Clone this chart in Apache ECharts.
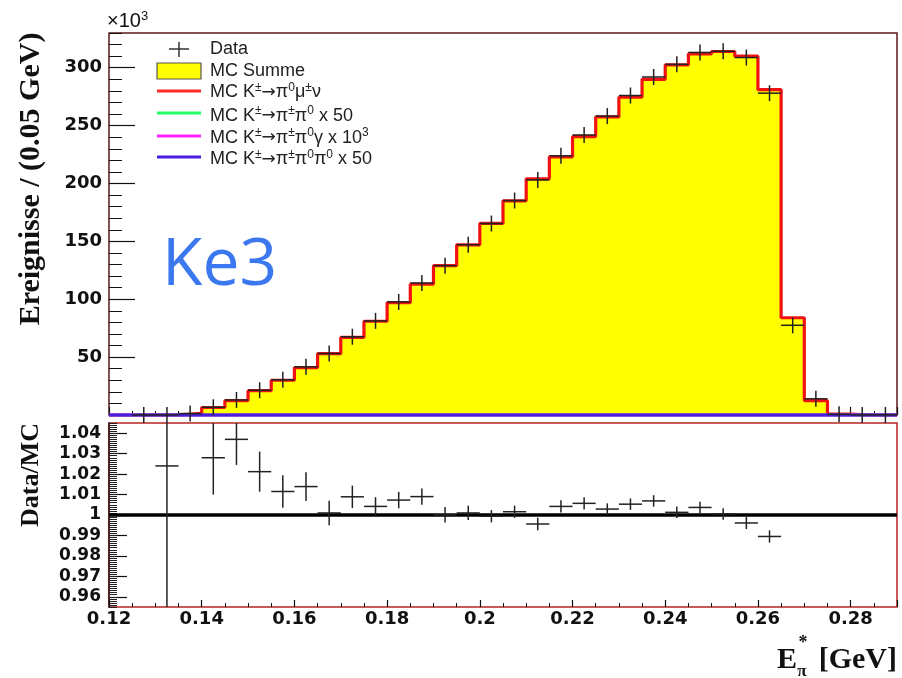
<!DOCTYPE html>
<html>
<head>
<meta charset="utf-8">
<script src="https://cdn.jsdelivr.net/npm/echarts@6/dist/echarts.min.js"></script>
<style>
  html, body { margin: 0; padding: 0; background: #ffffff; }
  #chart { width: 902px; height: 678px; }
</style>
</head>
<body>
<div id="chart"></div>
<script>
// ---- histogram binning (GeV) ----
const binLow = [0.120, 0.125, 0.130, 0.135, 0.140, 0.145, 0.150, 0.155, 0.160, 0.165,
                0.170, 0.175, 0.180, 0.185, 0.190, 0.195, 0.200, 0.205, 0.210, 0.215,
                0.220, 0.225, 0.230, 0.235, 0.240, 0.245, 0.250, 0.255, 0.260, 0.265,
                0.270, 0.275, 0.280, 0.285];
const binUpper = 0.29;

// ---- events per bin, in units of 10^3 ----
const mcSum = [0, 0, 0.05, 1.5, 6.5, 12.5, 21, 30, 41, 53,
               67, 81, 97, 113, 129, 147, 165.5, 185, 204, 223,
               240.5, 257.5, 274.5, 290, 302.5, 312, 314, 310, 281, 84,
               12.5, 0.8, 0, 0];
const dataCounts = [null, 0.02, 0.05, 1.2, 6.7, 13.0, 21.4, 30.4, 41.6, 53.1,
                    67.6, 81.3, 97.7, 114.0, 129.0, 147.1, 165.4, 185.3, 203.1, 223.9,
                    241.9, 258.2, 276.0, 292.0, 302.9, 313.2, 314.2, 308.8, 278.0, 77.5,
                    14.0, 0.6, 0.1, 0.1];
// background channels (scaled) stay at the baseline on this scale
const mcK2pi  = [0, 0, 0, 0, 0, 0, 0, 0, 0, 0, 0, 0, 0, 0, 0, 0, 0,
                 0, 0, 0, 0, 0, 0, 0, 0, 0, 0, 0, 0, 0, 0, 0, 0, 0];
const mcK2piG = [0, 0, 0, 0, 0, 0, 0, 0, 0, 0, 0, 0, 0, 0, 0, 0, 0,
                 0, 0, 0, 0, 0, 0, 0, 0, 0, 0, 0, 0, 0, 0, 0, 0, 0];
const mcK3pi  = [0, 0, 0, 0, 0, 0, 0, 0, 0, 0, 0, 0, 0, 0, 0, 0, 0,
                 0, 0, 0, 0, 0, 0, 0, 0, 0, 0, 0, 0, 0, 0, 0, 0, 0];

// ---- Data/MC ratio ----
const ratioBinLow = [0.130, 0.140, 0.145, 0.150, 0.155, 0.160, 0.165, 0.170, 0.175, 0.180,
                     0.185, 0.190, 0.195, 0.200, 0.205, 0.210, 0.215, 0.220, 0.225, 0.230,
                     0.235, 0.240, 0.245, 0.250, 0.255, 0.260];
const ratioValues = [1.024, 1.028, 1.037, 1.0212, 1.0115, 1.0139, 1.001, 1.0089, 1.0042, 1.0073,
                     1.009, 1.0001, 1.001, 0.9994, 1.0016, 0.9956, 1.0042, 1.0057, 1.0029, 1.0053,
                     1.0069, 1.0013, 1.0037, 1.0005, 0.9961, 0.9895];
const ratioErrors = [0.2, 0.018, 0.0125, 0.0098, 0.008, 0.007, 0.006, 0.0055, 0.0045, 0.004,
                     0.004, 0.0038, 0.0035, 0.003, 0.003, 0.003, 0.003, 0.003, 0.0028, 0.0028,
                     0.0028, 0.0028, 0.0028, 0.0028, 0.003, 0.003];
const unityRatio = 1;

// ---- tick labels ----
const xTickLabels = [0.12, 0.14, 0.16, 0.18, 0.20, 0.22, 0.24, 0.26, 0.28];
const topYTicks = [0, 50, 100, 150, 200, 250, 300];
const topYLabels = [50, 100, 150, 200, 250, 300];
const ratioTicks = [0.96, 0.97, 0.98, 0.99, 1.00, 1.01, 1.02, 1.03, 1.04];

// ---- helpers ----
const binWidth = binLow[1] - binLow[0];
function stepPoints(values) {
  const pts = binLow.map((x, i) => [x, values[i]]);
  pts.push([binUpper, values[values.length - 1]]);
  return pts;
}
const dataItems = [];
binLow.forEach((lo, i) => {
  if (dataCounts[i] !== null) dataItems.push([lo, lo + binWidth, dataCounts[i]]);
});
const ratioItems = ratioBinLow.map((lo, i) => [lo, lo + binWidth, ratioValues[i], ratioErrors[i]]);
const fmtNum = v => String(+(+v).toFixed(3));

const tickFont = { fontFamily: 'DejaVu Sans', fontWeight: 'bold', color: '#111' };
const crossColor = '#222';

const chart = echarts.init(document.getElementById('chart'), null, { renderer: 'canvas' });

const option = {
  animation: false,
  backgroundColor: '#ffffff',
  grid: [
    { left: 109, top: 33, width: 788, height: 382, show: true,
      borderColor: '#5a1a1a', borderWidth: 1.5, backgroundColor: '#ffffff' },
    { left: 109, top: 423, width: 788, height: 184, show: true,
      borderColor: '#b82424', borderWidth: 1.5, backgroundColor: '#ffffff' }
  ],
  xAxis: [
    { gridIndex: 0, type: 'value', position: 'bottom', min: 0.12, max: binUpper, interval: 0.02,
      axisLine: { show: false, onZero: false }, splitLine: { show: false },
      axisTick: { inside: true, length: 8, lineStyle: { color: '#111', width: 1.2 } },
      axisLabel: { show: false } },
    { gridIndex: 0, type: 'value', position: 'bottom', min: 0.12, max: binUpper, interval: 0.005,
      axisLine: { show: false, onZero: false }, splitLine: { show: false },
      axisTick: { inside: true, length: 4, lineStyle: { color: '#111', width: 1 } },
      axisLabel: { show: false } },
    { gridIndex: 1, type: 'value', position: 'bottom', min: 0.12, max: binUpper, interval: 0.02,
      axisLine: { show: false, onZero: false }, splitLine: { show: false },
      axisTick: { inside: true, length: 7, lineStyle: { color: '#111', width: 1.2 } },
      axisLabel: Object.assign({ customValues: xTickLabels, fontSize: 18, margin: 3,
        formatter: v => (Math.abs(v - binUpper) < 1e-9 ? '' : fmtNum(v)) }, tickFont) },
    { gridIndex: 1, type: 'value', position: 'bottom', min: 0.12, max: binUpper, interval: 0.005,
      axisLine: { show: false, onZero: false }, splitLine: { show: false },
      axisTick: { inside: true, length: 4, lineStyle: { color: '#111', width: 1 } },
      axisLabel: { show: false } }
  ],
  yAxis: [
    { gridIndex: 0, type: 'value', position: 'left', min: 0, max: 330, interval: 50,
      axisLine: { show: false, onZero: false }, splitLine: { show: false },
      axisTick: { inside: true, length: 26, customValues: topYTicks, lineStyle: { color: '#111', width: 1.2 } },
      axisLabel: Object.assign({ customValues: topYLabels, fontSize: 18, margin: 7,
        padding: [7, 0, 0, 0], formatter: v => fmtNum(v) }, tickFont) },
    { gridIndex: 0, type: 'value', position: 'left', min: 0, max: 330, interval: 10,
      axisLine: { show: false, onZero: false }, splitLine: { show: false },
      axisTick: { inside: true, length: 13, lineStyle: { color: '#111', width: 1 } },
      axisLabel: { show: false } },
    { gridIndex: 1, type: 'value', position: 'left', min: 0.955, max: 1.045, interval: 0.005,
      axisLine: { show: true, onZero: false, lineStyle: { color: '#3a1010', width: 1.5 } },
      splitLine: { show: false },
      axisTick: { inside: true, length: 18, customValues: ratioTicks, lineStyle: { color: '#111', width: 1.2 } },
      axisLabel: Object.assign({ customValues: ratioTicks, fontSize: 17, margin: 8,
        padding: [5, 0, 0, 0], formatter: v => fmtNum(v) }, tickFont) },
    { gridIndex: 1, type: 'value', position: 'left', min: 0.955, max: 1.045, interval: 0.001,
      axisLine: { show: false, onZero: false }, splitLine: { show: false },
      axisTick: { inside: true, length: 8, lineStyle: { color: '#222', width: 1 } },
      axisLabel: { show: false } }
  ],
  series: [
    { name: 'MC Summe', type: 'line', xAxisIndex: 0, yAxisIndex: 0, step: 'end',
      data: stepPoints(mcSum), symbol: 'none', clip: false, z: 2,
      lineStyle: { color: '#f01212', width: 3.2 },
      areaStyle: { color: '#ffff00', opacity: 1 } },
    { name: 'K2pi', type: 'line', xAxisIndex: 0, yAxisIndex: 0, step: 'end',
      data: stepPoints(mcK2pi), symbol: 'none', clip: false, z: 3,
      lineStyle: { color: '#22ee55', width: 3 } },
    { name: 'K2piG', type: 'line', xAxisIndex: 0, yAxisIndex: 0, step: 'end',
      data: stepPoints(mcK2piG), symbol: 'none', clip: false, z: 3,
      lineStyle: { color: '#ff22ff', width: 3 } },
    { name: 'K3pi', type: 'line', xAxisIndex: 0, yAxisIndex: 0, step: 'end',
      data: stepPoints(mcK3pi), symbol: 'none', clip: false, z: 4,
      lineStyle: { color: '#4a1ee0', width: 3 } },
    { name: 'Data', type: 'custom', xAxisIndex: 0, yAxisIndex: 0, z: 6, clip: false,
      data: dataItems, encode: { x: [0, 1], y: 2 },
      renderItem: (params, api) => {
        const lo = api.value(0), hi = api.value(1), v = api.value(2);
        const a = api.coord([lo, v]), b = api.coord([hi, v]);
        const cx = (a[0] + b[0]) / 2;
        return { type: 'group', children: [
          { type: 'line', shape: { x1: a[0], y1: a[1], x2: b[0], y2: b[1] },
            style: { stroke: crossColor, lineWidth: 1.5 } },
          { type: 'line', shape: { x1: cx, y1: a[1] - 8, x2: cx, y2: a[1] + 8 },
            style: { stroke: crossColor, lineWidth: 1.5 } }
        ] };
      } },
    { name: 'Ratio', type: 'custom', xAxisIndex: 2, yAxisIndex: 2, z: 6, clip: true,
      data: ratioItems, encode: { x: [0, 1], y: 2 },
      renderItem: (params, api) => {
        const lo = api.value(0), hi = api.value(1), r = api.value(2), e = api.value(3);
        const mid = (lo + hi) / 2;
        const a = api.coord([lo, r]), b = api.coord([hi, r]);
        const t = api.coord([mid, r + e]), d = api.coord([mid, r - e]);
        return { type: 'group', children: [
          { type: 'line', shape: { x1: a[0], y1: a[1], x2: b[0], y2: b[1] },
            style: { stroke: crossColor, lineWidth: 1.5 } },
          { type: 'line', shape: { x1: t[0], y1: t[1], x2: d[0], y2: d[1] },
            style: { stroke: crossColor, lineWidth: 1.5 } }
        ] };
      },
      markLine: { silent: true, symbol: ['none', 'none'], label: { show: false },
        lineStyle: { color: '#000', width: 3.5, type: 'solid' },
        data: [{ yAxis: unityRatio }] } }
  ],
  graphic: [
    // exponent of the upper y axis
    { type: 'text', left: 107, top: 10, z: 10,
      style: { text: '×10{sup|3}', fontFamily: 'Liberation Sans', fontSize: 20, fill: '#111',
        lineHeight: 22, rich: { sup: { fontSize: 13, verticalAlign: 'top', lineHeight: 13 } } } },
    // channel tag
    { type: 'text', x: 162, y: 266, z: 10,
      style: { text: 'Ke3', fontFamily: 'Open Sans', fontSize: 66, fill: '#3b78f0',
        align: 'left', verticalAlign: 'middle' } },
    // axis titles
    { type: 'text', x: 31, y: 179, rotation: Math.PI / 2, z: 10,
      style: { text: 'Ereignisse / (0.05 GeV)', fontFamily: 'Liberation Serif', fontWeight: 'bold',
        fontSize: 30, fill: '#111', align: 'center', verticalAlign: 'middle' } },
    { type: 'text', x: 31, y: 475, rotation: Math.PI / 2, z: 10,
      style: { text: 'Data/MC', fontFamily: 'Liberation Serif', fontWeight: 'bold',
        fontSize: 26, fill: '#111', align: 'center', verticalAlign: 'middle' } },
    { type: 'text', x: 777, y: 660, z: 10,
      style: { text: 'E', fontFamily: 'Liberation Serif', fontWeight: 'bold',
        fontSize: 30, fill: '#111', align: 'left', verticalAlign: 'middle' } },
    { type: 'text', x: 803, y: 643, z: 10,
      style: { text: '*', fontFamily: 'Liberation Serif', fontWeight: 'bold',
        fontSize: 18, fill: '#111', align: 'center', verticalAlign: 'middle' } },
    { type: 'text', x: 802, y: 672, z: 10,
      style: { text: 'π', fontFamily: 'Liberation Serif', fontWeight: 'bold',
        fontSize: 17, fill: '#111', align: 'center', verticalAlign: 'middle' } },
    { type: 'text', x: 897, y: 660, z: 10,
      style: { text: '[GeV]', fontFamily: 'Liberation Serif', fontWeight: 'bold',
        fontSize: 30, fill: '#111', align: 'right', verticalAlign: 'middle' } },
    // legend
    { type: 'group', z: 10, children: [
      { type: 'line', shape: { x1: 169, y1: 49, x2: 189, y2: 49 }, style: { stroke: '#333', lineWidth: 1.5 } },
      { type: 'line', shape: { x1: 179, y1: 42, x2: 179, y2: 57 }, style: { stroke: '#333', lineWidth: 1.5 } },
      { type: 'rect', shape: { x: 157, y: 63, width: 44, height: 16 },
        style: { fill: '#ffff00', stroke: '#555', lineWidth: 1.2 } },
      { type: 'line', shape: { x1: 157, y1: 91, x2: 201, y2: 91 }, style: { stroke: '#ff2a2a', lineWidth: 3 } },
      { type: 'line', shape: { x1: 157, y1: 113, x2: 201, y2: 113 }, style: { stroke: '#22ff66', lineWidth: 3 } },
      { type: 'line', shape: { x1: 157, y1: 136, x2: 201, y2: 136 }, style: { stroke: '#ff22ff', lineWidth: 3 } },
      { type: 'line', shape: { x1: 157, y1: 157, x2: 201, y2: 157 }, style: { stroke: '#4a1ee0', lineWidth: 3 } }
    ] }
  ]
};

// legend texts
const legendRich = {
  sup: { fontSize: 12, verticalAlign: 'top', lineHeight: 12 },
  arr: { fontFamily: 'DejaVu Sans', fontSize: 17, lineHeight: 22 }
};
const legendTexts = [
  ['Data', 49],
  ['MC Summe', 71.5],
  ['MC K{sup|±}{arr|→}π{sup|0}μ{sup|±}ν', 92.5],
  ['MC K{sup|±}{arr|→}π{sup|±}π{sup|0} x 50', 116],
  ['MC K{sup|±}{arr|→}π{sup|±}π{sup|0}γ x 10{sup|3}', 138],
  ['MC K{sup|±}{arr|→}π{sup|±}π{sup|0}π{sup|0} x 50', 159.5]
];
legendTexts.forEach(([t, y]) => {
  option.graphic.push({ type: 'text', x: 210, y: y, z: 10,
    style: { text: t, fontFamily: 'Liberation Sans', fontSize: 18, fill: '#222',
      lineHeight: 22, align: 'left', verticalAlign: 'middle', rich: legendRich } });
});

chart.setOption(option);
</script>
</body>
</html>
